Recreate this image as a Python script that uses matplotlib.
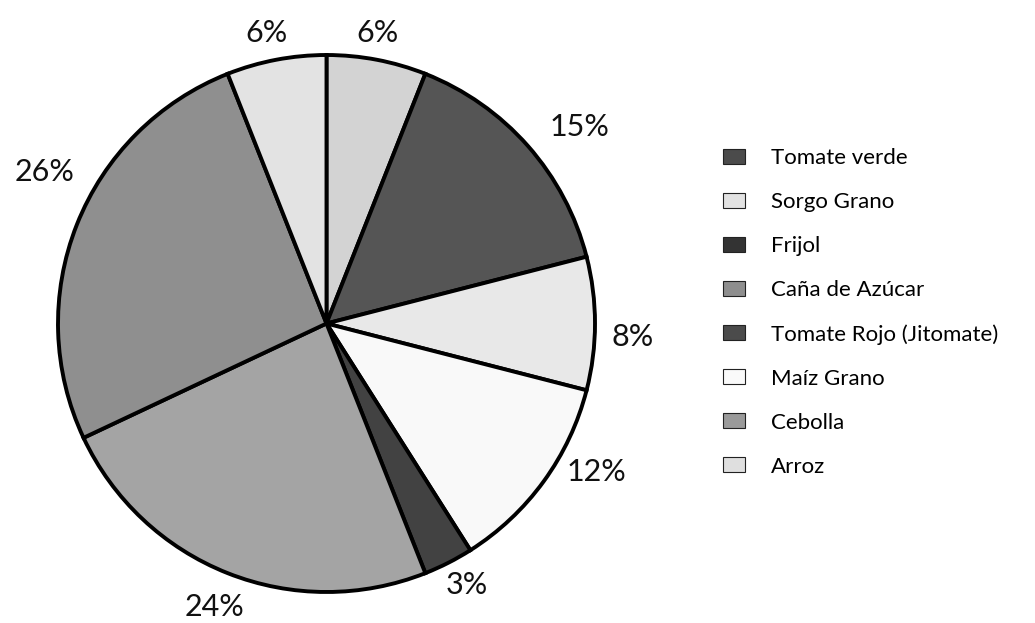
import matplotlib
matplotlib.use("Agg")
import matplotlib.pyplot as plt
from matplotlib.patches import Patch
import numpy as np

# Legend categories (as listed in the reference legend)
categories = ["Tomate verde", "Sorgo Grano", "Frijol", "Caña de Azúcar",
              "Tomate Rojo (Jitomate)", "Maíz Grano", "Cebolla", "Arroz"]
legend_colors = ["#4b4b4b", "#e2e2e2", "#333333", "#8e8e8e",
                 "#4b4b4b", "#fafafa", "#9a9a9a", "#dfdfdf"]

# Pie slices, clockwise starting at 12 o'clock
pie_values = [6, 15, 8, 12, 3, 24, 26, 6]
pie_colors = ["#d3d3d3", "#555555", "#e8e8e8", "#f9f9f9",
              "#424242", "#a4a4a4", "#8f8f8f", "#e3e3e3"]
pie_labels = ["6%", "15%", "8%", "12%", "3%", "24%", "26%", "6%"]
# label placement (style): radial distance and angular nudge in degrees
label_radius = [1.098, 1.194, 1.143, 1.149, 1.106, 1.136, 1.191, 1.104]
label_shift = [0.9, -3.6, -2.5, 7.2, 1.3, 0.0, -6.7, 0.8]

plt.rcParams["font.family"] = ["Lato", "DejaVu Sans"]

W, H = 1035, 623
fig = plt.figure(figsize=(W / 100, H / 100), dpi=100)
cx, cy, r = 326.5, 323.5, 268.5
ax = fig.add_axes([(cx - r) / W, (H - cy - r) / H, 2 * r / W, 2 * r / H])

wedges, _ = ax.pie(pie_values, colors=pie_colors, startangle=90,
                   counterclock=False, radius=1.0,
                   wedgeprops=dict(edgecolor="black", linewidth=2.8))
ax.set_xlim(-1, 1)
ax.set_ylim(-1, 1)
ax.set_aspect("equal")
ax.axis("off")
for w, lab, rad, sh in zip(wedges, pie_labels, label_radius, label_shift):
    ang = np.deg2rad((w.theta1 + w.theta2) / 2 + sh)
    ax.text(rad * np.cos(ang), rad * np.sin(ang), lab, ha="center", va="center",
            fontsize=22, color="#111111", clip_on=False)

handles = [Patch(facecolor=c, edgecolor="#222222", linewidth=0.8) for c in legend_colors]
fig.legend(handles, categories, loc="upper left",
           bbox_to_anchor=(723 / W, 1 - 148 / H), frameon=False,
           fontsize=16, handlelength=1.0, handleheight=0.65,
           handletextpad=1.15, labelspacing=1.08, borderaxespad=0,
           borderpad=0)

fig.savefig("out.png", dpi=100, facecolor="white")
